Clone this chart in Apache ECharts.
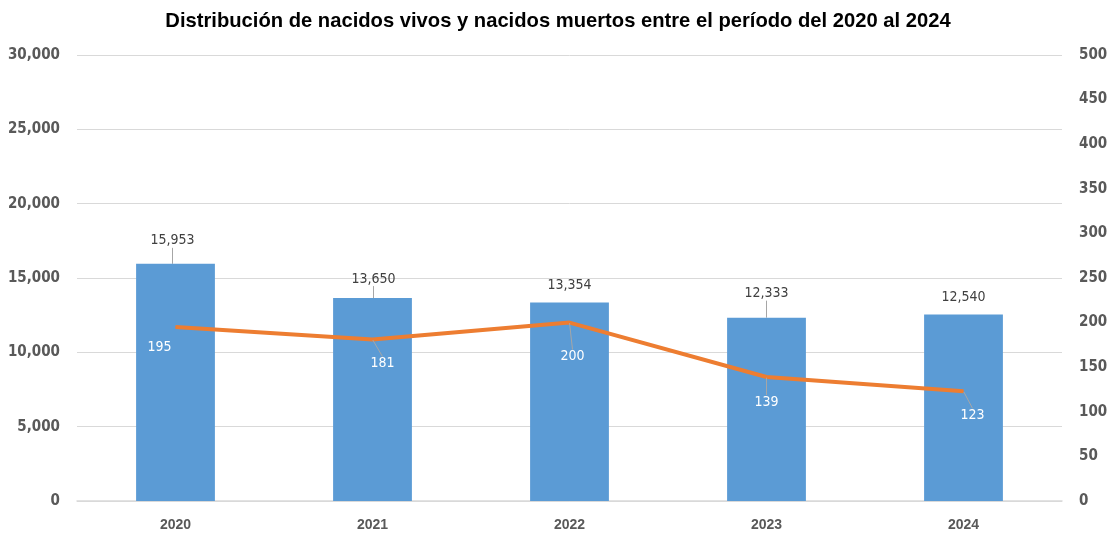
<!DOCTYPE html>
<html>
<head>
<meta charset="utf-8">
<script src="https://cdn.jsdelivr.net/npm/echarts@6/dist/echarts.min.js"></script>
<style>
html,body{margin:0;padding:0;background:#fff;}
#chart{width:1116px;height:538px;}
</style>
</head>
<body>
<div id="chart"></div>
<script>
const categories = ['2020', '2021', '2022', '2023', '2024'];
const nacidosVivos = [15953, 13650, 13354, 12333, 12540];
const nacidosMuertos = [195, 181, 200, 139, 123];
const leftTicks = { min: 0, max: 30000, interval: 5000 };
const rightTicks = { min: 0, max: 500, interval: 50 };

// label placement tweaks (pixels) and leader line visibility
const barLabelShift = [[-3, -16, true], [1, -12, true], [0, -10, false], [0, -17, true], [0, -10, false]];
const lineLabelShift = [[-16, 20, false], [10, 24, true], [3, 34, true], [0, 25, true], [9, 24, true]];

const chart = echarts.init(document.getElementById('chart'), null, { renderer: 'canvas' });

const fmt = v => v.toLocaleString('en-US');

chart.setOption({
  animation: false,
  backgroundColor: '#ffffff',
  title: {
    text: 'Distribución de nacidos vivos y nacidos muertos entre el período del 2020 al 2024',
    left: 'center',
    top: 6,
    textStyle: { fontFamily: 'Liberation Sans, sans-serif', fontWeight: 'bold', fontSize: 20.2, color: '#000' }
  },
  grid: { left: 77, right: 54, top: 55, bottom: 37, containLabel: false },
  xAxis: {
    type: 'category',
    data: categories,
    axisTick: { show: false },
    axisLine: { lineStyle: { color: '#d9d9d9', width: 1.5 } },
    axisLabel: { margin: 17, fontFamily: 'Liberation Sans, sans-serif', fontWeight: 'bold', fontSize: 14, color: '#595959' }
  },
  yAxis: [
    {
      type: 'value',
      min: leftTicks.min, max: leftTicks.max, interval: leftTicks.interval,
      axisLine: { show: false }, axisTick: { show: false },
      splitLine: { lineStyle: { color: '#d9d9d9', width: 1 } },
      axisLabel: { margin: 17, fontFamily: 'DejaVu Sans Condensed, DejaVu Sans, sans-serif', fontWeight: 'bold', fontSize: 15, color: '#595959', formatter: v => fmt(v) }
    },
    {
      type: 'value',
      min: rightTicks.min, max: rightTicks.max, interval: rightTicks.interval,
      axisLine: { show: false }, axisTick: { show: false },
      splitLine: { show: false },
      axisLabel: { margin: 17, fontFamily: 'DejaVu Sans Condensed, DejaVu Sans, sans-serif', fontWeight: 'bold', fontSize: 15, color: '#595959' }
    }
  ],
  series: [
    {
      name: 'Nacidos vivos',
      type: 'bar',
      yAxisIndex: 0,
      barWidth: '40%',
      itemStyle: { color: '#5b9bd5' },
      data: nacidosVivos.map((v, i) => ({ value: v, labelLine: { show: barLabelShift[i][2] } })),
      label: {
        show: true, position: 'top', distance: 0,
        fontFamily: 'DejaVu Sans Condensed, DejaVu Sans, sans-serif', fontSize: 14, color: '#404040',
        formatter: p => fmt(p.value)
      },
      labelLine: { show: true, lineStyle: { color: '#a6a6a6', width: 1 } },
      labelLayout: p => ({ dx: barLabelShift[p.dataIndex][0], dy: barLabelShift[p.dataIndex][1] })
    },
    {
      name: 'Nacidos muertos',
      type: 'line',
      yAxisIndex: 1,
      symbol: 'circle',
      symbolSize: 1,
      showSymbol: true,
      lineStyle: { color: '#ed7d31', width: 4 },
      itemStyle: { color: '#ed7d31' },
      data: nacidosMuertos.map((v, i) => ({ value: v, labelLine: { show: lineLabelShift[i][2] } })),
      label: {
        show: true, position: 'inside',
        fontFamily: 'DejaVu Sans Condensed, DejaVu Sans, sans-serif', fontSize: 14, color: '#ffffff'
      },
      labelLine: { show: true, lineStyle: { color: '#a6a6a6', width: 1 } },
      labelLayout: p => ({ dx: lineLabelShift[p.dataIndex][0], dy: lineLabelShift[p.dataIndex][1] })
    }
  ]
});
</script>
</body>
</html>
